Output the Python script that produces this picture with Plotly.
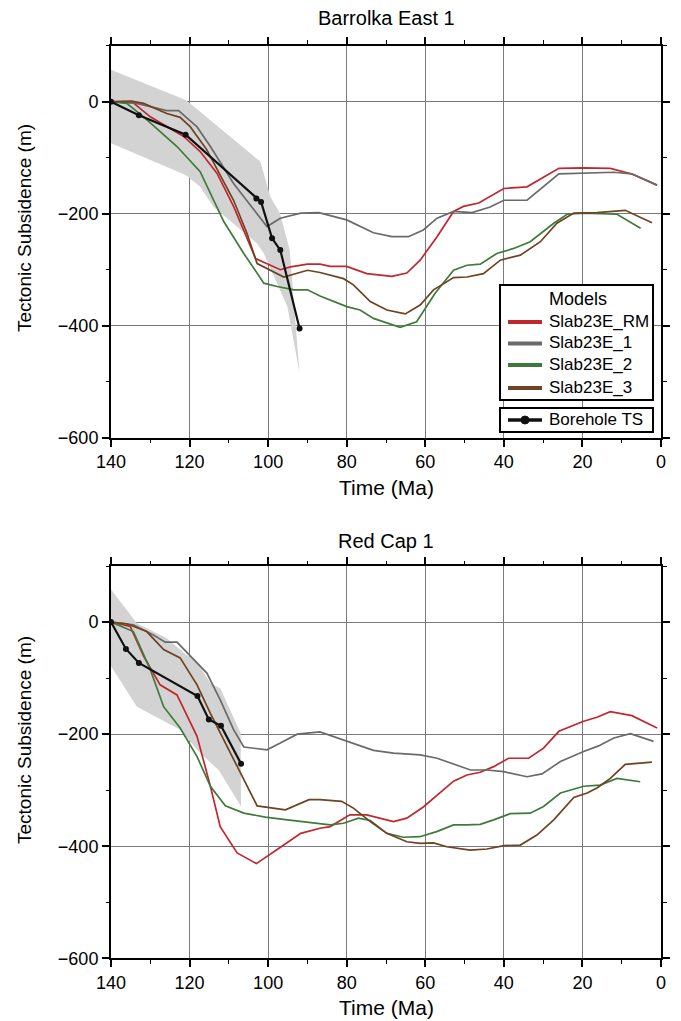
import plotly.graph_objects as go

W, H = 681, 1021

# ---------------- Data: Barrolka East 1 ----------------
be_bore_t = [140, 132.9, 121, 103, 101.8, 99, 96.9, 92]
be_bore_s = [0, -24, -59, -173, -179, -244, -265, -405]

be_band_up_t = [140, 121, 119, 102, 99.4, 97, 94.5, 92]
be_band_up_s = [57, 3, -8, -107, -170, -199, -265, -485]
be_band_lo_t = [140, 121, 117.3, 113.9, 102.8, 101.1, 97.7, 95.1, 92]
be_band_lo_s = [-74, -131, -152, -188, -253, -271, -324, -366, -485]

be_rm_t = [140, 134.3, 130, 121.5, 117.3, 113, 108.8, 103.2, 96.9, 94.3, 90, 86.8, 84.2, 80, 74.9,
           68.5, 64.7, 61.3, 57, 52.8, 50.3, 46.4, 40, 34.1, 26, 19.7, 12.9, 7.4, 1]
be_rm_s = [0, -2, -27, -62, -89, -128, -187, -280, -300, -295, -290, -290, -294, -294, -307,
           -312, -306, -283, -241, -196, -187, -181, -155, -152, -119, -118, -119, -129, -149]

be_1_t = [140, 134, 125.8, 122.8, 118.1, 114.7, 108.8, 100.3, 96.9, 91.7, 87.1, 80, 73.2, 68.5,
          64.3, 60.5, 57, 52.8, 48.1, 43.5, 40, 34.1, 26, 18.8, 12, 7.4, 1]
be_1_s = [0, -2, -16, -16, -45, -80, -146, -223, -208, -199, -198, -211, -234, -241,
          -241, -229, -208, -196, -198, -188, -176, -176, -129, -127, -126, -129, -149]

be_2_t = [140, 136, 131.7, 123.2, 117.3, 111.3, 106.2, 101.1, 97.7, 93.4, 90, 86.8, 80, 76.6, 73.2,
          66.4, 62.2, 57.5, 52.8, 49.4, 46, 41.8, 37.5, 33.3, 27.3, 23.9, 19.7, 12.9, 11.2, 5.2]
be_2_s = [0, -3, -27, -80, -125, -214, -271, -324, -330, -336, -336, -347, -366, -372, -387,
          -403, -393, -342, -301, -292, -290, -271, -262, -250, -217, -201, -199, -201, -201, -226]

be_3_t = [140, 134.8, 131.7, 125.8, 122.4, 119.8, 115.6, 108.8, 105.4, 102.8, 96, 90, 86.8, 80.8,
          78.3, 74, 69.8, 65.1, 61.3, 57.9, 52.8, 49.4, 45.2, 40.9, 35.8, 30.7, 26.5, 22.2, 16.3, 9.1, 2.3]
be_3_s = [0, 1, -3, -21, -28, -45, -86, -176, -235, -289, -313, -301, -305, -316,
          -327, -357, -372, -379, -363, -336, -314, -313, -307, -283, -274, -250, -217, -199, -198, -194, -216]

# ---------------- Data: Red Cap 1 ----------------
rc_bore_t = [140, 136.2, 132.9, 118, 115.1, 112, 106.9]
rc_bore_s = [0, -48, -73, -132, -174, -185, -253]

rc_band_up_t = [140, 133.4, 125.8, 121, 118.5, 114.7, 112.2, 107, 106.9]
rc_band_up_s = [58, -2, -29, -58, -67, -109, -118, -198, -329]
rc_band_lo_t = [140, 133.4, 122.4, 117.3, 112.6, 106.9]
rc_band_lo_s = [-79, -151, -192, -234, -264, -329]

rc_rm_t = [140, 135.1, 131.7, 127.5, 123.2, 118.1, 114.7, 112.2, 107.9, 103, 97.7, 91.7, 86.8, 84.2,
           79.2, 74.9, 68.1, 64.7, 60.5, 56.3, 52.8, 49.4, 46, 42.6, 38.8, 33.7, 29.9, 26, 19.7,
           16.3, 12.9, 7.4, 1]
rc_rm_s = [0, -8, -61, -112, -130, -204, -293, -365, -412, -431, -406, -377, -368, -365,
           -344, -344, -356, -350, -330, -305, -284, -273, -268, -258, -243, -243, -225, -195, -177,
           -170, -160, -167, -189]

rc_1_t = [140, 134.3, 129.2, 126.2, 123.2, 119, 115.6, 112.2, 108.8, 106.2, 100.3, 96.9, 92.6, 86.8,
          80, 73.2, 68.1, 61.3, 57, 48.5, 44.3, 40, 34.1, 30.3, 25.6, 19.7, 15.9, 12, 7.8, 1.9]
rc_1_s = [0, -5, -23, -36, -36, -67, -91, -139, -192, -223, -228, -216, -200, -196,
          -213, -229, -234, -237, -243, -264, -264, -267, -276, -271, -249, -231, -221, -207, -199, -213]

rc_2_t = [140, 134.3, 130, 126.6, 122.4, 118.1, 114.7, 110.9, 106.2, 100.7, 95.1, 86.8, 84.2, 80.8,
          77, 74, 69.8, 65.6, 61.4, 57.1, 52.8, 49.4, 46, 42.6, 38.4, 33.3, 29.9, 25.6, 19.7, 15.5, 11.2, 5.3]
rc_2_s = [0, -17, -85, -151, -189, -240, -293, -328, -341, -348, -353, -359, -362, -359,
          -350, -354, -377, -384, -383, -374, -362, -362, -361, -353, -342, -341, -329, -305, -293, -291, -279, -285]

rc_3_t = [140, 136, 130.9, 126.6, 122.4, 118.1, 114.7, 110.5, 106.2, 102.8, 95.6, 89.6, 86.8, 81.3,
          78.3, 74, 69.8, 64.7, 61.3, 57.9, 54.5, 48.6, 44.3, 40, 35.8, 31.6, 27.3, 22.2, 18.8,
          16.3, 12.9, 9.1, 2.3]
rc_3_s = [0, -3, -17, -49, -64, -112, -163, -222, -282, -328, -335, -317, -317, -320,
          -332, -356, -377, -392, -395, -394, -401, -407, -405, -399, -398, -380, -353, -313, -305,
          -296, -279, -254, -250]

model_names = ["Slab23E_RM", "Slab23E_1", "Slab23E_2", "Slab23E_3"]
model_colors = ["#c1272d", "#6a6a6a", "#3e7b3a", "#6e4222"]
bore_name = "Borehole TS"
x_ticks = [140, 120, 100, 80, 60, 40, 20, 0]
y_ticks = [0, -200, -400, -600]

FONT = "Liberation Sans, Arial, Helvetica, sans-serif"

panels = [
    dict(title="Barrolka East 1", xa="x", ya="y",
         band=(be_band_up_t, be_band_up_s, be_band_lo_t, be_band_lo_s),
         models=[(be_rm_t, be_rm_s), (be_1_t, be_1_s), (be_2_t, be_2_s), (be_3_t, be_3_s)],
         bore=(be_bore_t, be_bore_s)),
    dict(title="Red Cap 1", xa="x2", ya="y2",
         band=(rc_band_up_t, rc_band_up_s, rc_band_lo_t, rc_band_lo_s),
         models=[(rc_rm_t, rc_rm_s), (rc_1_t, rc_1_s), (rc_2_t, rc_2_s), (rc_3_t, rc_3_s)],
         bore=(rc_bore_t, rc_bore_s)),
]

fig = go.Figure()
for p in panels:
    ut, us, lt, ls = p["band"]
    fig.add_trace(go.Scatter(x=ut + lt[::-1], y=us + ls[::-1], fill="toself",
                             fillcolor="#d3d3d3", line=dict(width=0), mode="lines",
                             hoverinfo="skip", showlegend=False, xaxis=p["xa"], yaxis=p["ya"]))
    for (t, s), name, col in zip(p["models"], model_names, model_colors):
        fig.add_trace(go.Scatter(x=t, y=s, mode="lines", name=name,
                                 line=dict(color=col, width=1.7), showlegend=False,
                                 xaxis=p["xa"], yaxis=p["ya"]))
    bt, bs = p["bore"]
    fig.add_trace(go.Scatter(x=bt, y=bs, mode="lines+markers", name=bore_name,
                             line=dict(color="#111111", width=2.2),
                             marker=dict(color="#111111", size=6), showlegend=False,
                             xaxis=p["xa"], yaxis=p["ya"]))


def px_x(px):
    return px / W


def px_y(py):
    return 1 - py / H


x_dom = [px_x(111), px_x(661)]
top_dom = [px_y(437.7), px_y(45.7)]
bot_dom = [px_y(958.3), px_y(566)]

axis_common = dict(showline=True, linewidth=2, linecolor="black", mirror="ticks",
                   ticks="outside", ticklen=7, tickwidth=1.5, tickcolor="black",
                   showgrid=True, gridcolor="#7a7a7a", gridwidth=1, zeroline=False,
                   automargin=False,
                   tickfont=dict(family=FONT, size=18, color="black"))

xa = dict(axis_common, range=[140, 0], tickvals=x_ticks, domain=x_dom,
          minor=dict(dtick=10, tick0=0, ticks="outside", ticklen=3.5, tickcolor="black",
                     tickwidth=1.2, showgrid=False))
ya = dict(axis_common, range=[-600, 100], tickvals=y_ticks,
          minor=dict(dtick=100, tick0=0, ticks="outside", ticklen=3.5, tickcolor="black",
                     tickwidth=1.2, showgrid=False))

fig.update_layout(
    width=W, height=H, margin=dict(l=0, r=0, t=0, b=0),
    paper_bgcolor="white", plot_bgcolor="white",
    font=dict(family=FONT, size=17, color="black"),
    xaxis=dict(xa, anchor="y"),
    yaxis=dict(ya, domain=top_dom, anchor="x"),
    xaxis2=dict(xa, anchor="y2"),
    yaxis2=dict(ya, domain=bot_dom, anchor="x2"),
    showlegend=False,
)

# ---- legend (drawn as a key box like the reference) ----
fig.add_shape(type="rect", xref="paper", yref="paper", layer="above",
              x0=px_x(500), x1=px_x(653), y0=px_y(400), y1=px_y(285),
              line=dict(color="black", width=2), fillcolor="white")
fig.add_shape(type="rect", xref="paper", yref="paper", layer="above",
              x0=px_x(500), x1=px_x(653), y0=px_y(432), y1=px_y(408),
              line=dict(color="black", width=2), fillcolor="white")
fig.add_annotation(text="Models", xref="paper", yref="paper", x=px_x(578), y=px_y(299),
                   showarrow=False, font=dict(size=18), xanchor="center", yanchor="middle")
row_y = [322, 343.5, 365, 388]
for name, col, ry in zip(model_names, model_colors, row_y):
    fig.add_shape(type="line", xref="paper", yref="paper", layer="above",
                  x0=px_x(508), x1=px_x(542), y0=px_y(ry), y1=px_y(ry),
                  line=dict(color=col, width=4))
    fig.add_annotation(text=name, xref="paper", yref="paper", x=px_x(547), y=px_y(ry - 1),
                       showarrow=False, font=dict(size=17), xanchor="left", yanchor="middle")
fig.add_shape(type="line", xref="paper", yref="paper", layer="above",
              x0=px_x(508), x1=px_x(542), y0=px_y(420), y1=px_y(420),
              line=dict(color="#111111", width=3.5))
fig.add_shape(type="circle", xref="paper", yref="paper", layer="above",
              x0=px_x(521), x1=px_x(529), y0=px_y(424), y1=px_y(416),
              line=dict(color="#111111", width=1), fillcolor="#111111")
fig.add_annotation(text=bore_name, xref="paper", yref="paper", x=px_x(547), y=px_y(419),
                   showarrow=False, font=dict(size=17), xanchor="left", yanchor="middle")

# ---- titles and axis labels ----
for p, py in zip(panels, [18, 541]):
    fig.add_annotation(text=p["title"], xref="paper", yref="paper", x=px_x(386), y=px_y(py),
                       showarrow=False, font=dict(size=20), xanchor="center", yanchor="middle")
for py in [487, 1007]:
    fig.add_annotation(text="Time (Ma)", xref="paper", yref="paper", x=px_x(386), y=px_y(py),
                       showarrow=False, font=dict(size=21), xanchor="center", yanchor="middle")
for py in [228, 740]:
    fig.add_annotation(text="Tectonic Subsidence (m)", xref="paper", yref="paper",
                       x=px_x(24), y=px_y(py), textangle=-90, showarrow=False,
                       font=dict(size=19), xanchor="center", yanchor="middle")

fig.write_html("out.html")
